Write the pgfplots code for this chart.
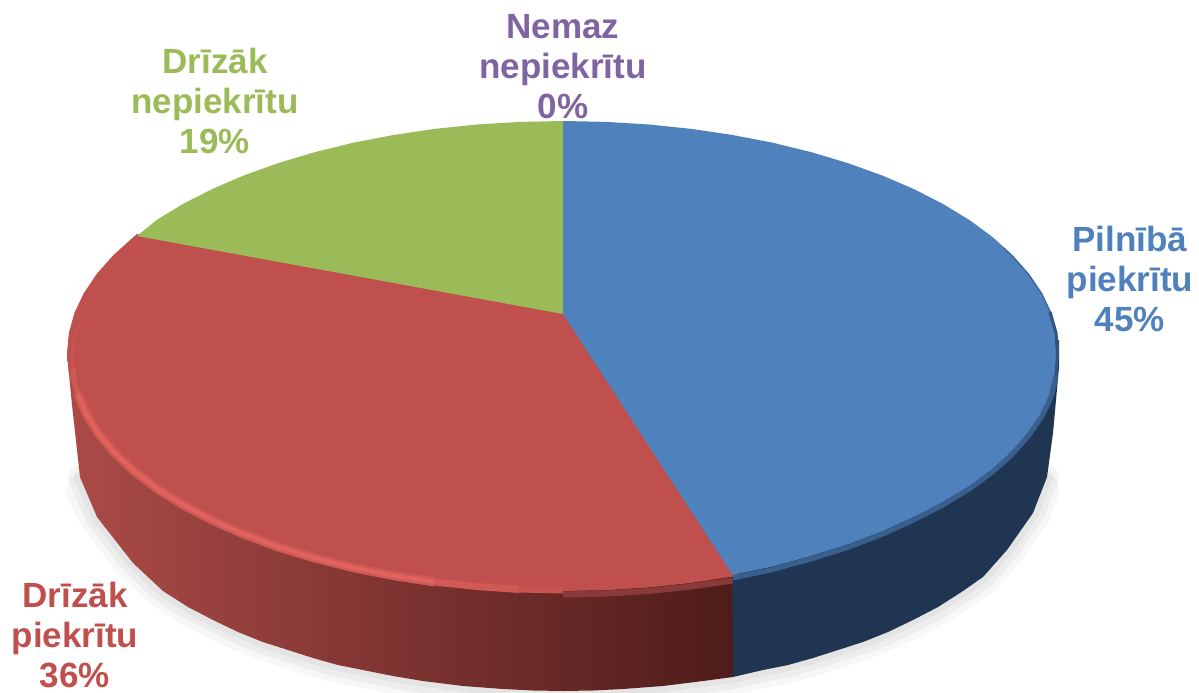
\documentclass[border=0pt]{standalone}
\usepackage{pgfplots}
\pgfplotsset{compat=1.18}
\usepackage{fontspec}
\setmainfont{Liberation Sans}
\definecolor{cblue}{HTML}{4F81BD}
\definecolor{cred}{HTML}{C0504D}
\definecolor{cgreen}{HTML}{9BBB59}
\definecolor{cpurple}{HTML}{8064A2}
\definecolor{sideblue}{HTML}{1F3552}
\definecolor{sideredL}{HTML}{AC4B48}
\definecolor{sideredR}{HTML}{4E1C1A}
\definecolor{rimA}{HTML}{CE5A56}
\definecolor{rimB}{HTML}{E2625E}
\definecolor{rimC}{HTML}{D25A56}
\definecolor{rimD}{HTML}{C85451}
\definecolor{rimE}{HTML}{8A3B39}
\tikzset{lab/.style={font=\fontsize{35}{40}\selectfont\bfseries,align=center,inner sep=0pt,anchor=center}}
\begin{document}
\begin{tikzpicture}
\begin{axis}[scale only axis,width=1199pt,height=693pt,xmin=0,xmax=1199,ymin=0,ymax=693,y dir=reverse,hide axis,no markers,clip=true]
% soft shadow along the lower outline
\addplot[draw=black,opacity=.03,line width=36pt,line join=round,line cap=round] coordinates {(84,490)(97,517)(133,563)(163,591)(188,607)(213,620)(238,632)(263,642)(288,650)(313,658)(338,665)(363,670)(393,676)(423,681)(463,686)(503,689)(533,690.5)(563,691)(593,690.5)(623,689)(663,686)(703,681)(733,677)(763,670)(788,665)(813,658)(838,650)(863,642)(888,632)(913,620)(938,607)(963,591)(983,577)(1007,550)(1033,513)(1041,490)};
\addplot[draw=black,opacity=.04,line width=24pt,line join=round,line cap=round] coordinates {(80,477)(97,517)(133,563)(163,591)(188,607)(213,620)(238,632)(263,642)(288,650)(313,658)(338,665)(363,670)(393,676)(423,681)(463,686)(503,689)(533,690.5)(563,691)(593,690.5)(623,689)(663,686)(703,681)(733,677)(763,670)(788,665)(813,658)(838,650)(863,642)(888,632)(913,620)(938,607)(963,591)(983,577)(1007,550)(1033,513)(1047,477)};
\addplot[draw=black,opacity=.04,line width=12pt,line join=round,line cap=round] coordinates {(80,477)(97,517)(133,563)(163,591)(188,607)(213,620)(238,632)(263,642)(288,650)(313,658)(338,665)(363,670)(393,676)(423,681)(463,686)(503,689)(533,690.5)(563,691)(593,690.5)(623,689)(663,686)(703,681)(733,677)(763,670)(788,665)(813,658)(838,650)(863,642)(888,632)(913,620)(938,607)(963,591)(983,577)(1007,550)(1033,513)(1047,477)};
% side walls
\addplot[draw=none,left color=sideredL,right color=sideredR] coordinates {(67,353)(72,405)(80,477)(97,517)(133,563)(163,591)(188,607)(213,620)(238,632)(263,642)(288,650)(313,658)(338,665)(363,670)(393,676)(423,681)(463,686)(503,689)(533,690.5)(563,691)(593,690.5)(623,689)(663,686)(703,681)(733,677)(733,560)(563,560)};
\addplot[draw=none,fill=sideblue] coordinates {(733,677)(763,670)(788,665)(813,658)(838,650)(863,642)(888,632)(913,620)(938,607)(963,591)(983,577)(1007,550)(1033,513)(1047,477)(1053,433)(1059,367)(1059,340)(732,560)};
% top faces
\addplot[draw=none,fill=cred] coordinates {(572,310)(137,234)(133.5,237)(113.5,255)(96.9,273.7)(83.9,293)(74.5,312.7)(68.9,332.8)(67,353)(68.9,373.8)(74.5,394.3)(83.9,414.6)(96.9,434.4)(113.5,453.6)(133.5,472)(156.7,489.5)(183.1,506)(212.3,521.3)(244.2,535.3)(278.5,548)(315,559.1)(353.4,568.7)(393.4,576.6)(434.6,582.9)(476.9,587.4)(519.7,590.1)(563,591)(606.3,590.1)(649.1,587.4)(691.4,582.9)(732.6,576.6)(738,574)};
\addplot[draw=none,fill=cgreen] coordinates {(570,314)(570,121)(563,121)(519.7,121.9)(476.9,124.5)(434.6,128.9)(393.4,135)(353.4,142.7)(315,152.1)(278.5,163)(244.2,175.3)(212.3,189)(183.1,203.9)(156.7,219.9)(137,236)(563,314)};
\addplot[draw=none,fill=cblue] coordinates {(563,314)(563,121)(606.3,121.9)(649.1,124.5)(691.4,128.9)(732.6,135)(772.6,142.7)(811,152.1)(847.5,163)(881.8,175.3)(913.7,189)(942.9,203.9)(969.3,219.9)(992.5,237)(1012.5,255)(1029.1,273.7)(1042.1,293)(1051.5,312.7)(1057.1,332.8)(1059,353)(1057.1,373)(1051.5,393)(1042.1,413)(1029.1,432)(1012.5,451)(992.5,469)(969.3,486)(942.9,502)(913.7,517)(881.8,531.5)(847.5,544.5)(811,556)(772.6,566.5)(732.6,575)};
% rim of the red slice
\addplot[draw=rimD,line width=3pt,line join=round] coordinates {(76,330)(72.5,352)(73,373)};
\addplot[draw=rimA,line width=5pt,line join=round] coordinates {(73,368)(74,380)(78,394.3)};
\addplot[draw=rimA,line width=9pt,line join=round] coordinates {(78,394.3)(86,413)(98,433)(114.5,452.5)(134,471)(157,488.5)(183.5,505)(212.5,520.3)(244.5,534.3)(278.5,547)(315,558.1)(353.4,567.7)(393.4,575.6)(434.6,582)};
\addplot[draw=rimB,line width=4pt,line join=round] coordinates {(78,394.3)(86,413)(98,433)(114.5,452.5)(134,471)(157,488.5)(183.5,505)(212.5,520.3)(244.5,534.3)(278.5,547)(315,558.1)(353.4,567.7)(393.4,575.6)(434.6,582)};
\addplot[draw=rimC,line width=7pt,line join=round] coordinates {(434.6,582)(476.9,586.5)(519.7,589.5)};
\addplot[draw=rimD,line width=6pt,line join=round] coordinates {(519.7,589.5)(563,590.5)};
\addplot[draw=rimE,line width=6pt,line join=round] coordinates {(563,594.5)(606.3,593.5)(649.1,591)(691.4,586.5)(732.6,580.5)};
% rim of the blue slice
\addplot[draw=cblue!55!sideblue,line width=5pt,line join=round] coordinates {(733,578)(772.6,569.5)(811,559)(847.5,547.5)(881.8,534.5)(913.7,520)(942.9,505)(969.3,489)(992.5,472)(1012.5,454)(1029.1,435)(1042.1,416)(1051.5,396)(1056,376)};
\addplot[draw=cblue!60!sideblue,line width=1pt,line join=round] coordinates {(1003,247.5)(1012,256)(1028.5,274.5)(1041.5,293.5)(1050.5,313)};
\addplot[draw=cblue!40!sideblue,line width=3pt,line join=round] coordinates {(1050,312)(1056,333)(1057.5,353)(1056,376)};
% labels
\node[lab,text=cblue] at (axis cs:1130,279) {Pilnībā\\piekrītu\\45\%};
\node[lab,text=cred] at (axis cs:75,635) {Drīzāk\\piekrītu\\36\%};
\node[lab,text=cgreen] at (axis cs:215,101) {Drīzāk\\nepiekrītu\\19\%};
\node[lab,text=cpurple] at (axis cs:563,67) {Nemaz\\nepiekrītu\\0\%};
\end{axis}
\pgfresetboundingbox
\path[use as bounding box] (0,0) rectangle (1199pt,693pt);
\end{tikzpicture}
\end{document}
